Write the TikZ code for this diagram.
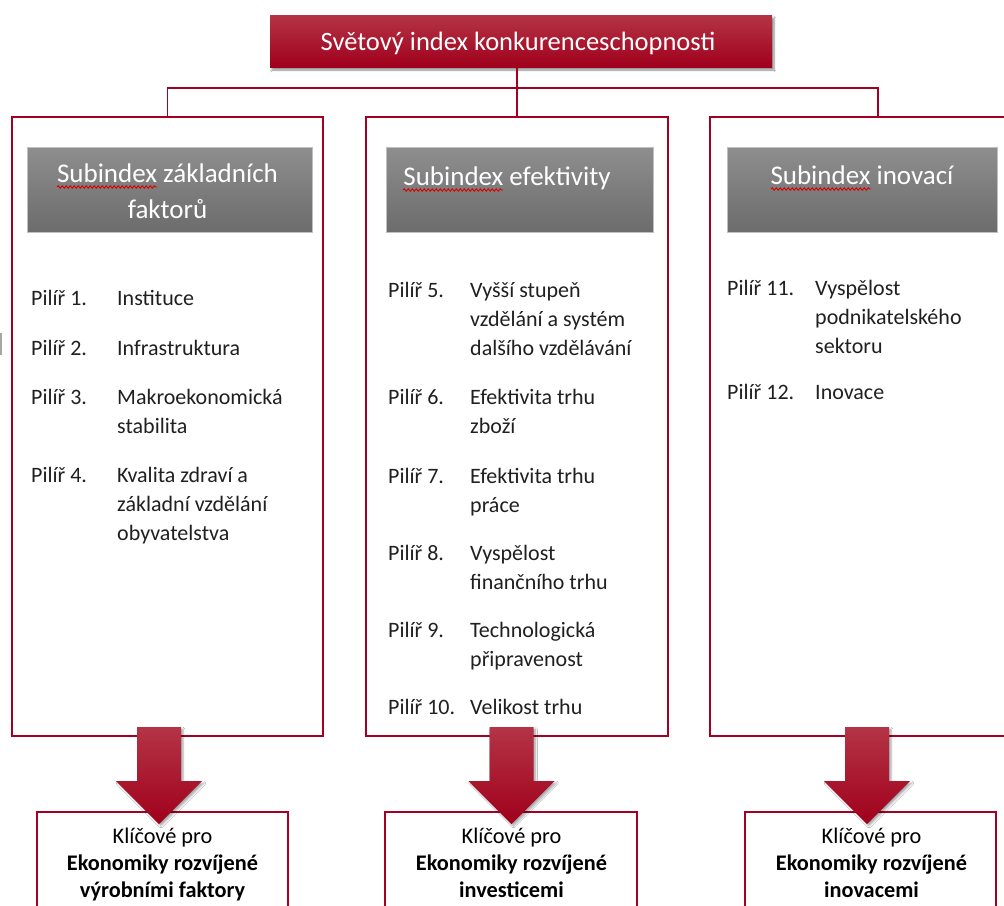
\documentclass[tikz,border=0pt]{standalone}
\usepackage{fontspec}
\setmainfont{Carlito}
\usetikzlibrary{shadows.blur,decorations.pathmorphing}
\definecolor{wred}{RGB}{165,0,33}
\definecolor{tred}{RGB}{180,52,70}
\definecolor{bred}{RGB}{160,0,28}
\definecolor{gtop}{RGB}{142,142,142}
\definecolor{gbot}{RGB}{108,108,108}
\definecolor{txt}{RGB}{32,32,32}
\tikzset{
  titlebox/.style={minimum width=502pt, minimum height=52pt, inner sep=0pt,
    top color=tred, bottom color=bred,
    blur shadow={shadow xshift=2pt, shadow yshift=-3pt, shadow blur steps=6, shadow opacity=45}},
  colbox/.style={draw=wred, line width=2.2pt, fill=white, inner sep=0pt},
  hdr/.style={draw=gray!50, line width=0.6pt, top color=gtop, bottom color=gbot, inner sep=0pt},
  htxt/.style={text=white, inner sep=0pt, font=\fontsize{27}{36}\selectfont},
  itm/.style={text=txt, inner sep=0pt, font=\fontsize{22}{29}\selectfont},
  bbox/.style={draw=wred, line width=2.2pt, fill=white, inner sep=0pt},
  btxt/.style={text=black, inner sep=0pt, font=\fontsize{22.3}{27}\selectfont},
  conn/.style={draw=wred, line width=1.5pt},
  arrowfill/.style={top color=tred, bottom color=bred,
    blur shadow={shadow xshift=2pt, shadow yshift=-2pt, shadow blur steps=5, shadow opacity=35}},
  squig/.style={draw=red!85!black, line width=0.9pt, decorate,
    decoration={snake, amplitude=1.2pt, segment length=4pt}}
}
\newcommand\pil[6]{%
  \node[itm, anchor=base west] (p#1) at (#2,#4) {#5};
  \node[itm, anchor=north west, align=left] (t#1) at (#3,#4-18) {\rule{0pt}{18pt}#6};}
\newcommand\bigarr[2]{%
  \coordinate (#1) at (#2,727);
  \path[arrowfill] (#1) ++(-22,0) -- ++(44,0) -- ++(0,54) -- ++(21,0) -- ++(-43,43) -- ++(-43,-43) -- ++(21,0) -- cycle;}
\begin{document}
\begin{tikzpicture}[x=1pt,y=-1pt]
\useasboundingbox (0,0) rectangle (1004,905);
\clip (0,0) rectangle (1004,905);
\fill[white] (0,0) rectangle (1004,905);

% column boxes
\node[colbox, minimum width=311pt, minimum height=619pt] (c1) at (167.5,426.5) {};
\node[colbox, minimum width=302pt, minimum height=619pt] (c2) at (517,426.5) {};
\node[colbox, minimum width=336pt, minimum height=619pt] (c3) at (878,426.5) {};

% title and connectors
\node[titlebox] (title) at (521,41) {};
\node[text=white, inner sep=0pt, font=\fontsize{26.5}{30}\selectfont, anchor=base] (titlet) at (518,50) {Světový index konkurenceschopnosti};
\coordinate (hy) at (0,88);
\draw[conn] (c1.north) -- (c1.north |- hy) -- (c3.north |- hy) -- (c3.north);
\draw[conn] (title.south -| c2.north) -- (c2.north);

% headers
\node[hdr, minimum width=285pt, minimum height=85pt] (h1) at (169.5,189.5) {};
\node[hdr, minimum width=267pt, minimum height=85pt] (h2) at (519.5,189.5) {};
\node[hdr, minimum width=270pt, minimum height=85pt] (h3) at (862.5,189.5) {};
\node[htxt, anchor=north, align=center] (h1t) at (167.5,160) {\rule{0pt}{22pt}Subindex základních\\faktorů};
\node[htxt, anchor=base] (h2t) at (507,185) {Subindex efektivity};
\node[htxt, anchor=base] (h3t) at (862,184) {Subindex inovací};
\draw[squig] (57,187) -- (157,187);
\draw[squig] (403,190) -- (503,190);
\draw[squig] (771,189) -- (871,189);

% pillars
\pil{1}{31}{117}{305}{Pilíř 1.}{Instituce}
\pil{2}{31}{117}{355}{Pilíř 2.}{Infrastruktura}
\pil{3}{31}{117}{404}{Pilíř 3.}{Makroekonomická\\stabilita}
\pil{4}{31}{117}{482}{Pilíř 4.}{Kvalita zdraví a\\základní vzdělání\\obyvatelstva}
\pil{5}{388}{470}{297}{Pilíř 5.}{Vyšší stupeň\\vzdělání a systém\\dalšího vzdělávání}
\pil{6}{388}{470}{404}{Pilíř 6.}{Efektivita trhu\\zboží}
\pil{7}{388}{470}{483}{Pilíř 7.}{Efektivita trhu\\práce}
\pil{8}{388}{470}{560}{Pilíř 8.}{Vyspělost\\finančního trhu}
\pil{9}{388}{470}{637}{Pilíř 9.}{Technologická\\připravenost}
\pil{10}{388}{470}{714}{Pilíř 10.}{Velikost trhu}
\pil{11}{727}{815}{295}{Pilíř 11.}{Vyspělost\\podnikatelského\\sektoru}
\pil{12}{727}{815}{399}{Pilíř 12.}{Inovace}

% bottom boxes
\node[bbox, minimum width=251pt, minimum height=116pt] (b1) at (162.5,870) {};
\node[bbox, minimum width=252pt, minimum height=116pt] (b2) at (511,870) {};
\node[bbox, minimum width=251pt, minimum height=116pt] (b3) at (870.5,870) {};
\node[btxt, anchor=north, align=center] (b1t) at (162.5,825) {\rule{0pt}{18pt}Klíčové pro\\\textbf{Ekonomiky rozvíjené}\\\textbf{výrobními faktory}};
\node[btxt, anchor=north, align=center] (b2t) at (511.5,825) {\rule{0pt}{18pt}Klíčové pro\\\textbf{Ekonomiky rozvíjené}\\\textbf{investicemi}};
\node[btxt, anchor=north, align=center] (b3t) at (871.5,825) {\rule{0pt}{18pt}Klíčové pro\\\textbf{Ekonomiky rozvíjené}\\\textbf{inovacemi}};

% arrows
\bigarr{a1}{159}
\bigarr{a2}{511.5}
\bigarr{a3}{867}

% edge mark
\fill[gray!70] (0,333) rectangle (1.5,355);
\end{tikzpicture}
\end{document}
